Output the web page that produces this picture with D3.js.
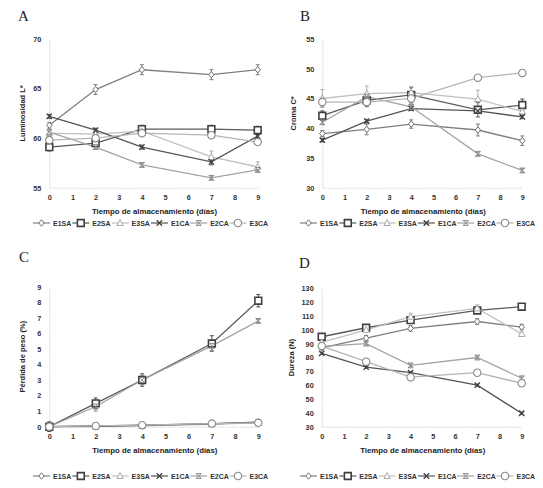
<!DOCTYPE html>
<html>
<head>
<meta charset="utf-8">
<script src="https://cdn.jsdelivr.net/npm/d3@7"></script>
<style>
  body { margin: 0; background: #fff; }
  svg text { font-family: "Liberation Sans", Arial, sans-serif; }
</style>
</head>
<body>
<div id="wrapper"></div>
<script>
// días de almacenamiento
const days = [0, 2, 4, 7, 9]
const xTicks = [0, 1, 2, 3, 4, 5, 6, 7, 8, 9]
const seriesNames = ["E1SA", "E2SA", "E3SA", "E1CA", "E2CA", "E3CA"]

// A - Luminosidad L*
const lumValues = [
    [61.3, 64.9, 66.9, 66.4, 66.9],
    [59.1, 59.5, 60.9, 60.9, 60.8],
    [60.5, 60.4, 60.7, 58.1, 57.1],
    [62.2, 60.8, 59.1, 57.6, 60.2],
    [60.6, 59.1, 57.3, 56.0, 56.8],
    [59.8, 60.0, 60.5, 60.3, 59.6]
]
const lumErr = [
    [0.3, 0.5, 0.5, 0.5, 0.5],
    [0.4, 0.3, 0.4, 0.4, 0.4],
    [0.3, 0.3, 0.5, 0.6, 0.5],
    [0.2, 0.2, 0.2, 0.3, 0.2],
    [0.2, 0.2, 0.2, 0.2, 0.2],
    [0.2, 0.2, 0.2, 0.2, 0.2]
]
const lumTicks = [55, 60, 65, 70]

// B - Croma C*
const cromaValues = [
    [39.1, 39.8, 40.7, 39.7, 37.9],
    [42.1, 44.7, 45.6, 43.1, 43.9],
    [45.0, 45.8, 46.0, 44.9, 42.8],
    [38.0, 41.2, 43.3, 42.9, 41.9],
    [41.0, 45.3, 43.6, 35.7, 32.9],
    [44.4, 44.4, 45.0, 48.5, 49.3]
]
const cromaErr = [
    [0.5, 0.9, 0.7, 1.0, 0.8],
    [0.8, 1.0, 1.2, 1.2, 1.0],
    [1.5, 1.3, 1.0, 1.5, 0.5],
    [0.3, 0.3, 0.3, 0.3, 0.3],
    [0.3, 0.3, 0.3, 0.3, 0.3],
    [0.8, 0.8, 0.8, 0.3, 0.3]
]
const cromaTicks = [30, 35, 40, 45, 50, 55]

// C - Pérdida de peso (%)
const pesoValues = [
    [0, 0.05, 0.1, 0.2, 0.3],
    [0, 1.5, 3.0, 5.35, 8.1],
    [0, 0.02, 0.05, 0.15, 0.25],
    [0, 0.03, 0.08, 0.18, 0.28],
    [0, 1.3, 3.0, 5.2, 6.8],
    [0, 0.05, 0.1, 0.2, 0.25]
]
const pesoErr = [
    [0.3, 0.05, 0.05, 0.05, 0.05],
    [0.3, 0.35, 0.4, 0.5, 0.4],
    [0.05, 0.05, 0.05, 0.05, 0.05],
    [0.05, 0.05, 0.05, 0.05, 0.05],
    [0.2, 0.3, 0.3, 0.3, 0.1],
    [0.05, 0.05, 0.05, 0.05, 0.05]
]
const pesoTicks = [0, 1, 2, 3, 4, 5, 6, 7, 8, 9]

// D - Dureza (N)
const durezaValues = [
    [87, 94, 101, 106, 102],
    [95, 101.5, 107, 114, 116.7],
    [91, 100, 109.5, 115.5, 97],
    [83, 73, 69, 60, 39.7],
    [88, 90, 74.3, 80, 65],
    [88.3, 77, 65.8, 69, 61.4]
]
const durezaErr = [
    [1.5, 2, 2, 2, 2],
    [1, 1, 1.5, 1.5, 1],
    [1.5, 1.5, 2.5, 2.5, 1.5],
    [0.8, 0.8, 0.8, 0.8, 0.8],
    [1, 1, 1, 1, 1],
    [1, 1, 1, 1, 1]
]
const durezaTicks = [30, 40, 50, 60, 70, 80, 90, 100, 110, 120, 130]

const xTitle = "Tiempo de almacenamiento (días)"

// estilos de cada serie
const colors = ["#7f7f7f", "#5a5a5a", "#c0c0c0", "#555555", "#a3a3a3", "#b5b5b5"]
const markerColors = ["#6f6f6f", "#404040", "#a8a8a8", "#404040", "#8c8c8c", "#8a8a8a"]
const markers = [
    "M0,-3.2L2.7,0L0,3.2L-2.7,0Z",
    "M-3.4,-3.4H3.4V3.4H-3.4Z",
    "M0,-3.4L3.2,2.5H-3.2Z",
    "M-2.7,-2.7L2.7,2.7M2.7,-2.7L-2.7,2.7",
    "M-2.4,-2.4L2.4,2.4M2.4,-2.4L-2.4,2.4M-2.7,-2.4H2.7M-2.7,2.4H2.7",
    "M3.7,0A3.7,3.7 0 1,1 -3.7,0A3.7,3.7 0 1,1 3.7,0Z"
]
const markerWidths = [1, 1.6, 1, 1.3, 1, 1.1]

const svg = d3.select("#wrapper").append("svg")
    .attr("width", 543).attr("height", 488)

const panels = [
    { letter: "A", lx: 18, ly: 21, left: 49.3, right: 257.7, top: 39, bottom: 187.7,
      domain: [55, 70], ticks: lumTicks, yLabel: "Luminosidad L*", yLabelX: 25,
      values: lumValues, err: lumErr, xTitleY: 214, legendX: 33, legendY: 223 },
    { letter: "B", lx: 300, ly: 21, left: 322.3, right: 522.3, top: 39, bottom: 187.7,
      domain: [30, 55], ticks: cromaTicks, yLabel: "Croma C*", yLabelX: 296,
      values: cromaValues, err: cromaErr, xTitleY: 214, legendX: 300, legendY: 223 },
    { letter: "C", lx: 19, ly: 262, left: 49.3, right: 258.3, top: 286.7, bottom: 426.7,
      domain: [0, 9], ticks: pesoTicks, yLabel: "Pérdida de peso (%)", yLabelX: 25,
      values: pesoValues, err: pesoErr, xTitleY: 453, legendX: 33, legendY: 476 },
    { letter: "D", lx: 299, ly: 268, left: 321.7, right: 521.7, top: 288.3, bottom: 426.7,
      domain: [30, 130], ticks: durezaTicks, yLabel: "Dureza (N)", yLabelX: 294,
      values: durezaValues, err: durezaErr, xTitleY: 453, legendX: 300, legendY: 476 }
]

panels.forEach(drawPanel)

function drawPanel(p) {
    const x = d3.scaleLinear().domain([0, 9]).range([p.left, p.right])
    const y = d3.scaleLinear().domain(p.domain).range([p.bottom, p.top])
    const g = svg.append("g")

    g.append("text")
        .attr("x", p.lx).attr("y", p.ly)
        .style("font-family", "'Liberation Serif', 'DejaVu Serif', serif")
        .style("font-size", "15px")
        .style("fill", "#222")
        .text(p.letter)

    const yAxis = g.append("g")
        .attr("transform", `translate(${p.left},0)`)
        .call(d3.axisLeft(y).tickValues(p.ticks).tickSize(0).tickPadding(8).tickFormat(d3.format("d")))
    const xAxis = g.append("g")
        .attr("transform", `translate(0,${p.bottom})`)
        .call(d3.axisBottom(x).tickValues(xTicks).tickSize(0).tickPadding(7))
    ;[yAxis, xAxis].forEach(ax => {
        ax.select(".domain").attr("stroke", "#d4d4d4").attr("stroke-width", 1).attr("stroke-dasharray", "1.5,1")
        ax.selectAll("text")
            .style("font-size", "7.3px").style("font-weight", "bold").style("fill", "#333")
    })

    g.append("text")
        .attr("transform", `translate(${p.yLabelX},${(p.top + p.bottom) / 2}) rotate(-90)`)
        .attr("text-anchor", "middle")
        .style("font-size", "7.5px").style("font-weight", "bold").style("fill", "#222")
        .text(p.yLabel)

    g.append("text")
        .attr("x", (p.left + p.right) / 2 + 1).attr("y", p.xTitleY)
        .attr("text-anchor", "middle")
        .style("font-size", "7.8px").style("font-weight", "bold").style("fill", "#222")
        .text(xTitle)

    const line = d3.line().x((d, i) => x(days[i])).y(d => y(d))

    p.values.forEach((vals, s) => {
        g.append("path")
            .datum(vals)
            .attr("d", line)
            .attr("fill", "none")
            .attr("stroke", colors[s])
            .attr("stroke-width", 1.3)
    })

    // barras de error
    p.values.forEach((vals, s) => {
        vals.forEach((v, i) => {
            const e = p.err[s][i]
            const cx = x(days[i])
            const eg = g.append("g").attr("stroke", markerColors[s]).attr("stroke-width", 0.9)
            eg.append("line").attr("x1", cx).attr("x2", cx).attr("y1", y(v - e)).attr("y2", y(v + e))
            eg.append("line").attr("x1", cx - 2).attr("x2", cx + 2).attr("y1", y(v - e)).attr("y2", y(v - e))
            eg.append("line").attr("x1", cx - 2).attr("x2", cx + 2).attr("y1", y(v + e)).attr("y2", y(v + e))
        })
    })

    p.values.forEach((vals, s) => {
        g.selectAll(null)
            .data(vals)
            .enter()
            .append("path")
            .attr("d", markers[s])
            .attr("transform", (d, i) => `translate(${x(days[i])},${y(d)})`)
            .attr("fill", "#fff")
            .attr("stroke", markerColors[s])
            .attr("stroke-width", markerWidths[s])
    })

    // leyenda
    const step = 39.3
    seriesNames.forEach((name, s) => {
        const lx = p.legendX + s * step
        g.append("line")
            .attr("x1", lx).attr("x2", lx + 17)
            .attr("y1", p.legendY).attr("y2", p.legendY)
            .attr("stroke", colors[s]).attr("stroke-width", 1.2)
        g.append("path")
            .attr("d", markers[s])
            .attr("transform", `translate(${lx + 8.5},${p.legendY})`)
            .attr("fill", "#fff")
            .attr("stroke", markerColors[s])
            .attr("stroke-width", markerWidths[s])
        g.append("text")
            .attr("x", lx + 20).attr("y", p.legendY + 2.5)
            .style("font-size", "7px").style("font-weight", "bold").style("fill", "#333")
            .text(name)
    })
}
</script>
</body>
</html>
